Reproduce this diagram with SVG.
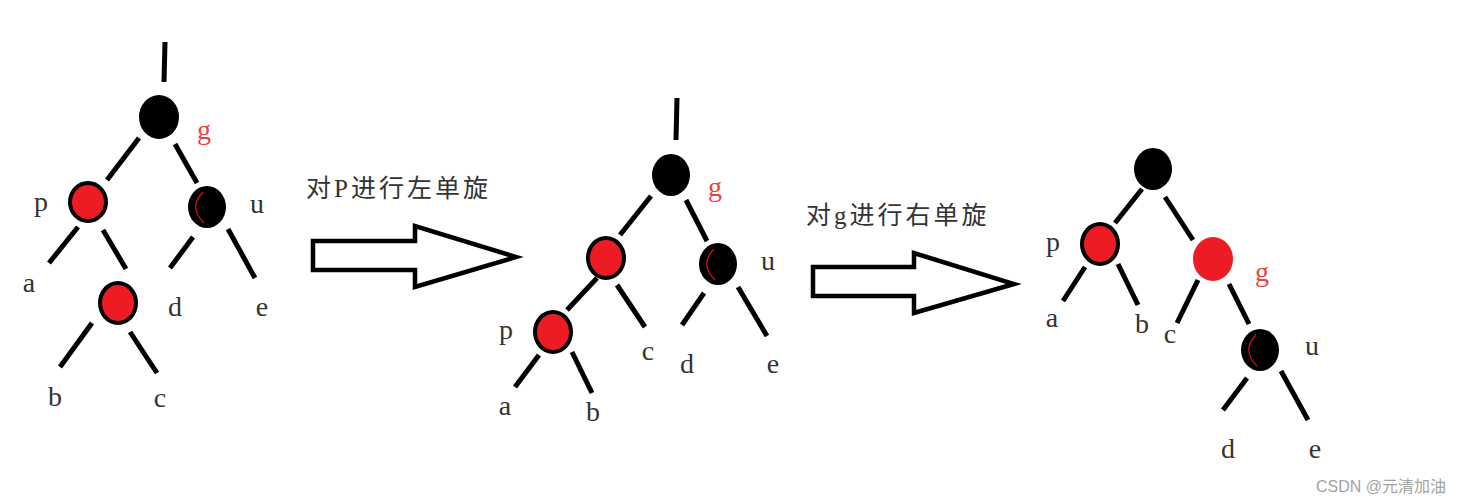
<svg xmlns="http://www.w3.org/2000/svg" width="1461" height="503" viewBox="0 0 1461 503">
<defs>
<style>
.e{stroke:#000;stroke-width:5;fill:none}
.blk{fill:#000}
.red{fill:#ed1c24;stroke:#000;stroke-width:4}
.redn{fill:#ed1c24}
.arc{fill:none;stroke:#e01010;stroke-width:1.2}
.lbl{font-family:"Liberation Serif",serif;font-size:28px;fill:#333;text-anchor:middle}
.lg{fill:#ef3f3f}
.cap{font-family:"Liberation Serif","Noto Sans CJK SC",serif;font-size:25px;fill:#333;letter-spacing:3px}
.arr{fill:#fff;stroke:#000;stroke-width:4.5;stroke-linejoin:miter}
.wm{font-family:"Liberation Sans","Noto Sans CJK SC",sans-serif;font-size:16px;fill:#a3a3a3;text-anchor:end}
</style>
</defs>
<rect width="1461" height="503" fill="#fff"/>

<g id="connectors">
<!-- tree 1 -->
<line class="e" x1="165" y1="42" x2="164" y2="82"/>
<line class="e" x1="139" y1="138" x2="107" y2="180"/>
<line class="e" x1="175" y1="144" x2="197" y2="183"/>
<line class="e" x1="78" y1="227" x2="49" y2="263"/>
<line class="e" x1="103" y1="230" x2="126" y2="269"/>
<line class="e" x1="193" y1="237" x2="170" y2="268"/>
<line class="e" x1="228" y1="229" x2="255" y2="278"/>
<line class="e" x1="92" y1="323" x2="60" y2="367"/>
<line class="e" x1="130" y1="332" x2="157" y2="373"/>
<!-- tree 2 -->
<line class="e" x1="677" y1="98" x2="676" y2="140"/>
<line class="e" x1="651" y1="196" x2="620" y2="235"/>
<line class="e" x1="686" y1="200" x2="707" y2="241"/>
<line class="e" x1="597" y1="278" x2="567" y2="310"/>
<line class="e" x1="617" y1="285" x2="645" y2="327"/>
<line class="e" x1="704" y1="293" x2="682" y2="325"/>
<line class="e" x1="738" y1="287" x2="767" y2="336"/>
<line class="e" x1="539" y1="355" x2="515" y2="387"/>
<line class="e" x1="572" y1="352" x2="592" y2="393"/>
<!-- tree 3 -->
<line class="e" x1="1142" y1="189" x2="1115" y2="223"/>
<line class="e" x1="1165" y1="197" x2="1193" y2="240"/>
<line class="e" x1="1085" y1="267" x2="1063" y2="301"/>
<line class="e" x1="1118" y1="264" x2="1138" y2="305"/>
<line class="e" x1="1198" y1="280" x2="1177" y2="323"/>
<line class="e" x1="1229" y1="284" x2="1249" y2="324"/>
<line class="e" x1="1247" y1="378" x2="1223" y2="410"/>
<line class="e" x1="1281" y1="371" x2="1308" y2="420"/>
</g>

<!-- arrows -->
<g id="arrow1">
<polygon class="arr" points="313,241 415,241 415,226 516,257 415,287 415,270 313,270"/>
<text class="cap" x="306" y="197">对P进行左单旋</text>
</g>
<g id="arrow2">
<polygon class="arr" points="813,267 914,267 914,253 1014,284 914,313 914,296 813,296"/>
<text class="cap" x="806" y="224">对g进行右单旋</text>
</g>

<!-- tree 1 nodes -->
<g id="t1-g"><ellipse class="blk" cx="159" cy="117" rx="20" ry="22"/><text class="lbl lg" x="204" y="139">g</text></g>
<g id="t1-p"><ellipse class="red" cx="88" cy="202" rx="18" ry="19"/><text class="lbl" x="41" y="211">p</text></g>
<g id="t1-u"><ellipse class="blk" cx="207" cy="207" rx="19" ry="21"/><path class="arc" d="M203,192 Q188,207 204,223"/><text class="lbl" x="257" y="213">u</text></g>
<g id="t1-n"><ellipse class="red" cx="118" cy="303" rx="18" ry="20"/></g>
<g id="t1-a"><text class="lbl" x="29" y="292">a</text></g>
<g id="t1-d"><text class="lbl" x="175" y="316">d</text></g>
<g id="t1-e"><text class="lbl" x="262" y="316">e</text></g>
<g id="t1-b"><text class="lbl" x="55" y="406">b</text></g>
<g id="t1-c"><text class="lbl" x="160" y="407">c</text></g>

<!-- tree 2 nodes -->
<g id="t2-g"><ellipse class="blk" cx="671" cy="175" rx="19" ry="21"/><text class="lbl lg" x="715" y="196">g</text></g>
<g id="t2-n"><ellipse class="red" cx="606" cy="258" rx="18" ry="20"/></g>
<g id="t2-u"><ellipse class="blk" cx="718" cy="264" rx="19" ry="21"/><path class="arc" d="M714,249 Q699,264 715,280"/><text class="lbl" x="768" y="270">u</text></g>
<g id="t2-p"><ellipse class="red" cx="553" cy="332" rx="18" ry="20"/><text class="lbl" x="506" y="339">p</text></g>
<g id="t2-c"><text class="lbl" x="648" y="360">c</text></g>
<g id="t2-d"><text class="lbl" x="687" y="373">d</text></g>
<g id="t2-e"><text class="lbl" x="773" y="373">e</text></g>
<g id="t2-a"><text class="lbl" x="505" y="415">a</text></g>
<g id="t2-b"><text class="lbl" x="593" y="421">b</text></g>

<!-- tree 3 nodes -->
<g id="t3-r"><ellipse class="blk" cx="1153" cy="169" rx="19" ry="21"/></g>
<g id="t3-p"><ellipse class="red" cx="1100" cy="244" rx="18" ry="20"/><text class="lbl" x="1053" y="251">p</text></g>
<g id="t3-g"><ellipse class="redn" cx="1213" cy="259" rx="20" ry="22"/><text class="lbl lg" x="1262" y="281">g</text></g>
<g id="t3-u"><ellipse class="blk" cx="1260" cy="350" rx="19" ry="21"/><path class="arc" d="M1256,335 Q1241,350 1257,366"/><text class="lbl" x="1312" y="355">u</text></g>
<g id="t3-a"><text class="lbl" x="1052" y="327">a</text></g>
<g id="t3-b"><text class="lbl" x="1142" y="333">b</text></g>
<g id="t3-c"><text class="lbl" x="1170" y="343">c</text></g>
<g id="t3-d"><text class="lbl" x="1228" y="458">d</text></g>
<g id="t3-e"><text class="lbl" x="1315" y="458">e</text></g>

<text class="wm" x="1446" y="492">CSDN @元清加油</text>
</svg>
